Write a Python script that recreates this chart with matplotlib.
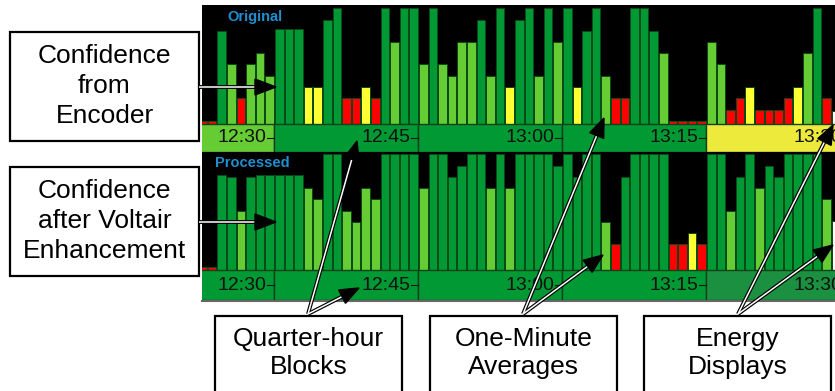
import numpy as np
import matplotlib.pyplot as plt
from matplotlib.patches import Rectangle, Polygon

plt.rcParams['font.family'] = ['Liberation Sans', 'DejaVu Sans']

# one-minute slots, minutes after 12:30
minutes = np.arange(-8, 59)

# confidence (%) per minute
orig_conf = [3, 3, 80, 52, 22, 52, 61, 41, 82, 82,
             82, 32, 32, 90, 100, 22, 22, 32, 22, 100,
             71, 100, 100, 52, 100, 52, 41, 71, 71, 90,
             41, 100, 32, 90, 100, 41, 100, 71, 100, 32,
             80, 100, 41, 22, 22, 100, 100, 80, 61, 3,
             3, 3, 3, 71, 52, 12, 22, 32, 12, 12,
             12, 22, 32, 61, 100, 22, 11]
orig_cls = list("RRDLRLLLDD" "DYYDDRRYRD" "LDDLDLLLLD" "LDYDDLDLDY"
                "DDLRRDDDLR" "RRRLLRRYRR" "RRYLDRW")

proc_conf = [3, 3, 82, 80, 51, 80, 82, 82, 82, 82,
             82, 71, 61, 100, 100, 51, 41, 71, 61, 100,
             100, 100, 100, 71, 100, 100, 80, 90, 100, 100,
             71, 100, 71, 100, 100, 100, 100, 90, 100, 80,
             100, 100, 41, 22, 80, 100, 100, 100, 100, 22,
             22, 32, 22, 100, 100, 51, 80, 100, 71, 90,
             80, 100, 100, 100, 100, 61, 42]
proc_cls = list("RRDDLDDDDD" "DLLDDLLLLD" "DDDLDDDDDD" "LDLDDDDDDD"
                "DDLRDDDDDR" "RYRDDLDDLD" "DDDDDLW")

# quarter-hour blocks
block_start = [-15, 0, 15, 30, 45]
block_labels = ['12:30', '12:45', '13:00', '13:15', '13:30']
orig_blocks = ['L', 'D', 'D', 'D', 'S']
proc_blocks = ['D', 'D', 'D', 'D', 'M']

colors = {'D': '#009933', 'L': '#66cc33', 'R': '#ff0000', 'Y': '#ffff33',
          'W': '#ffffff', 'S': '#eeea3c', 'M': '#1a9040'}

W, H = 835, 391
fig = plt.figure(figsize=(W / 100, H / 100), dpi=100)


def panel(top_px, bot_px, base_px, conf, cls, blocks):
    px_per = 1.16
    ax = fig.add_axes([202 / W, 1 - bot_px / H, (W - 202) / W, (bot_px - top_px) / H])
    ax.set_facecolor('black')
    ax.set_xlim((202 - 274) / 9.6, (835 - 274) / 9.6)
    ax.set_ylim(-(bot_px - base_px) / px_per, (base_px - top_px) / px_per)
    strip = (bot_px - base_px) / px_per
    ax.bar(minutes + 0.55, conf, width=0.88, color=[colors[c] for c in cls],
           edgecolor='#0b4a18', linewidth=0.7)
    ax.bar(np.array(block_start) + 7.5, strip, bottom=-strip, width=15,
           color=[colors[c] for c in blocks], edgecolor='#14401a', linewidth=1.0)
    for s, lab in zip(block_start, block_labels):
        ax.text(s + 15 - 0.8, -strip / 2, lab, ha='right', va='center',
                fontsize=14, color='#111111')
        ax.plot([s + 15 - 0.75, s + 15], [-strip / 2, -strip / 2], color='#111111', lw=0.8)
    ax.set_xticks([])
    ax.set_yticks([])
    for sp in ax.spines.values():
        sp.set_visible(False)
    return ax


panel(5, 152, 124, orig_conf, orig_cls, orig_blocks)
panel(152, 300, 270, proc_conf, proc_cls, proc_blocks)

ov = fig.add_axes([0, 0, 1, 1], zorder=5)
ov.set_xlim(0, W)
ov.set_ylim(H, 0)
ov.axis('off')
ov.patch.set_alpha(0)

ov.plot([202, 835], [300.5, 300.5], color='#666666', lw=1.5)
ov.text(227, 17, 'Original', color='#1f8fcf', fontsize=10.5, fontweight='bold', va='center')
ov.text(215, 163, 'Processed', color='#1f8fcf', fontsize=10.5, fontweight='bold', va='center')


def box(x0, y0, x1, y1, text, cy, ls, fs=19):
    ov.add_patch(Rectangle((x0, y0), x1 - x0, y1 - y0, facecolor='white',
                           edgecolor='black', lw=1.6, zorder=3))
    ov.text((x0 + x1) / 2, cy, text, ha='center', va='center', fontsize=fs,
            linespacing=ls, zorder=4)


def arrow(x0, y0, x1, y1, head=21, half=8):
    d = np.hypot(x1 - x0, y1 - y0)
    ux, uy = (x1 - x0) / d, (y1 - y0) / d
    bx, by = x1 - ux * head, y1 - uy * head
    ov.plot([x0, bx + ux * 2], [y0, by + uy * 2], color='black', lw=2.8,
            solid_capstyle='butt', zorder=5)
    ov.plot([x0, bx + ux * 2], [y0, by + uy * 2], color='white', lw=1.1,
            solid_capstyle='butt', zorder=6)
    px, py = -uy * half, ux * half
    ov.add_patch(Polygon([[x1, y1], [bx + px, by + py], [bx - px, by - py]],
                         closed=True, color='black', zorder=7))


box(10, 32, 199, 141, 'Confidence\nfrom\nEncoder', 86, 1.34)
box(10, 167, 199, 276, 'Confidence\nafter Voltair\nEnhancement', 221, 1.34)
box(215, 316, 402, 420, 'Quarter-hour\nBlocks', 353, 1.26)
box(430, 316, 617, 420, 'One-Minute\nAverages', 353, 1.26)
box(644, 316, 831, 420, 'Energy\nDisplays', 353, 1.26)

arrow(199, 87, 276, 87)
arrow(199, 222, 276, 222)
arrow(308, 314, 357, 141, head=19, half=7.5)
arrow(308, 314, 359, 288, head=19, half=7.5)
arrow(523, 314, 604, 118, head=19, half=7.5)
arrow(523, 314, 603, 255, head=19, half=7.5)
arrow(738, 314, 833, 125, head=19, half=7.5)
arrow(738, 314, 833, 245, head=19, half=7.5)

fig.savefig('out.png', dpi=100)
